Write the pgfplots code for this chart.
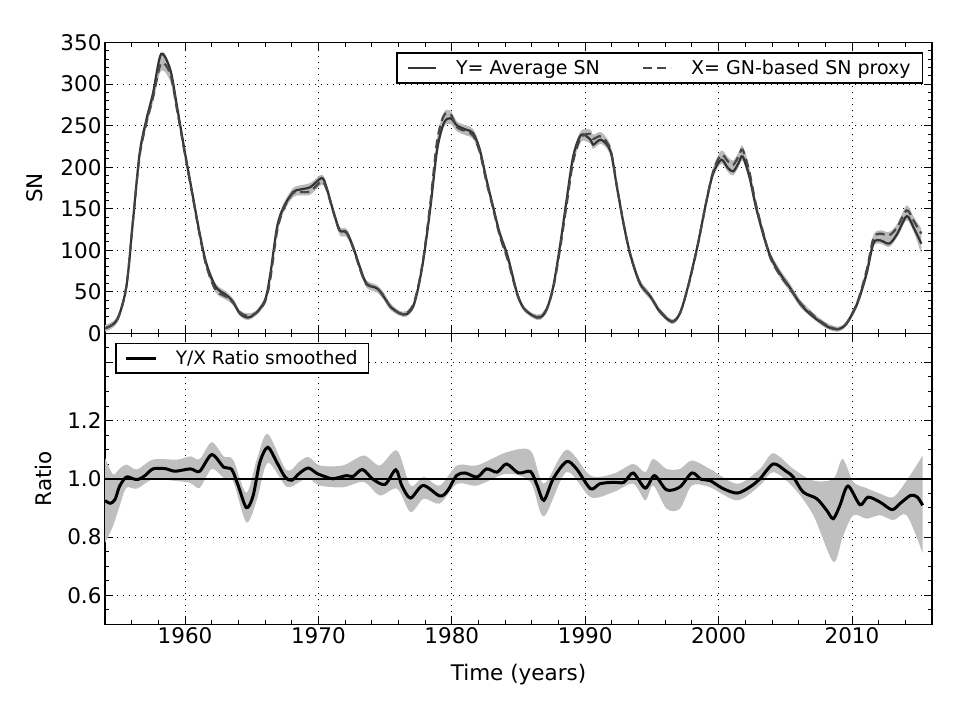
\documentclass[border=0pt]{standalone}
\usepackage{fontspec}
\setmainfont{DejaVu Sans}
\usepackage{pgfplots}
\usepackage{pgfplotstable}
\pgfplotsset{compat=1.18}
\usepgfplotslibrary{fillbetween}

\pgfplotstableread{
t Y X lo hi
1954.0 6 6 2 10
1954.9 16 16 12 20
1955.6 56 56 51 61
1956.1 136 136 130 142
1956.6 217 214 209 222
1957.1 257 253 248 262
1957.6 289 284 278 294
1958.2 336 325 316 339
1958.9 317 312 303 321
1959.4 273 269 263 278
1960.0 217 215 210 222
1960.6 164 162 157 169
1961.1 120 118 114 125
1961.6 84 81 77 88
1962.3 56 52 49 60
1963.1 46 44 40 50
1963.6 38 37 34 42
1964.1 24 25 21 28
1964.7 19 21 16 24
1965.3 24 24 21 27
1966.0 40 38 35 44
1966.4 72 66 63 76
1966.9 128 123 119 133
1967.4 152 150 146 157
1968.1 170 169 164 175
1968.6 173 170 166 178
1969.4 176 171 167 181
1970.25 187 183 179 191
1970.6 176 174 170 180
1971.1 148 147 143 152
1971.6 124 123 118 128
1972.1 122 121 116 126
1972.6 104 103 99 108
1973.1 80 78 75 84
1973.6 60 59 55 64
1974.4 54 54 49 58
1974.9 44 45 40 49
1975.4 32 32 28 36
1976.1 24 24 21 27
1976.6 23 24 20 27
1977.1 32 34 29 37
1977.5 56 58 52 62
1977.9 92 94 87 99
1978.4 152 158 147 162
1978.9 221 232 216 236
1979.4 253 262 248 266
1979.9 259 264 252 268
1980.4 250 248 243 255
1981.1 245 243 238 250
1981.6 241 238 234 246
1982.1 221 218 214 226
1982.6 185 182 179 190
1983.1 152 150 146 157
1983.6 120 117 114 125
1984.2 92 88 85 97
1984.9 48 47 43 52
1985.4 30 30 27 33
1986.1 21 21 18 24
1986.6 19 20 16 23
1987.1 28 29 25 32
1987.6 56 54 51 60
1988.1 104 100 97 109
1988.6 160 154 151 165
1989.1 213 207 203 218
1989.7 239 236 231 244
1990.4 233 240 228 245
1990.6 227 234 222 239
1991.2 233 237 228 242
1991.9 219 221 214 226
1992.4 174 175 169 180
1992.9 130 130 125 135
1993.4 94 93 89 99
1994.1 60 61 56 65
1994.9 44 44 40 48
1995.6 26 27 23 30
1996.5 14 14 11 17
1997.1 24 24 21 27
1997.7 56 55 52 60
1998.4 104 103 99 109
1999.1 160 160 155 165
1999.6 193 195 188 200
2000.2 209 215 204 220
2000.7 199 207 194 212
2001.1 195 203 190 208
2001.5 205 213 200 218
2001.8 213 221 208 226
2002.3 189 195 184 200
2002.8 152 155 147 160
2003.4 116 118 111 123
2003.9 92 90 87 97
2004.6 72 70 67 77
2005.3 56 55 51 61
2006.1 36 37 32 41
2006.8 24 26 21 29
2007.6 14 15 11 18
2008.3 7 8 4 11
2009.0 5 5 2 8
2009.6 12 12 9 15
2010.4 36 37 32 41
2011.1 72 76 68 80
2011.6 108 114 104 118
2012.1 112 120 108 124
2012.8 108 118 104 122
2013.4 120 128 116 132
2014.1 141 148 136 154
2014.6 128 136 123 141
2015.2 108 120 96 126
}\sntable

\pgfplotstableread{
t r
1954.0 0.925
1954.4 0.916
1954.75 0.929
1955.1 0.975
1955.6 1.006
1956.1 1.0
1956.5 0.998
1957.0 1.011
1957.6 1.034
1958.5 1.035
1959.25 1.026
1960.4 1.034
1961.1 1.026
1962.0 1.083
1962.9 1.04
1963.5 1.032
1964.0 0.975
1964.6 0.901
1965.1 0.941
1965.6 1.055
1966.2 1.108
1966.9 1.055
1967.5 1.006
1968.0 0.995
1968.6 1.02
1969.25 1.037
1969.9 1.018
1970.6 1.006
1971.1 1.0
1972.1 1.011
1972.6 1.008
1973.3 1.032
1974.1 0.998
1975.0 0.981
1975.8 1.031
1976.25 0.977
1976.9 0.934
1977.85 0.977
1979.1 0.941
1979.7 0.96
1980.35 1.011
1981.0 1.02
1981.9 1.006
1982.6 1.034
1983.4 1.023
1984.1 1.051
1985.0 1.02
1985.9 1.025
1986.4 0.977
1986.9 0.926
1987.6 1.0
1988.6 1.059
1989.35 1.034
1990.4 0.966
1991.1 0.983
1992.1 0.988
1992.9 0.988
1993.6 1.02
1994.5 0.968
1995.2 1.011
1996.1 0.962
1997.1 0.972
1998.0 1.02
1998.7 0.998
1999.35 0.994
2000.35 0.966
2001.4 0.951
2002.35 0.972
2003.1 1.0
2004.1 1.051
2005.0 1.028
2005.6 1.006
2006.35 0.954
2007.35 0.932
2008.1 0.892
2008.6 0.863
2009.1 0.909
2009.7 0.975
2010.6 0.911
2011.2 0.937
2012.1 0.92
2013.0 0.894
2013.6 0.915
2014.4 0.943
2014.9 0.937
2015.3 0.909
}\ratiotable

\pgfplotstableread{
t lo hi
1954.0 0.78 1.072
1954.6 0.838 1.015
1955.1 0.907 1.035
1955.6 0.969 1.049
1956.4 0.966 1.032
1957.6 0.998 1.066
1959.4 0.992 1.066
1960.4 0.986 1.077
1961.1 0.969 1.068
1962.0 1.034 1.126
1962.9 1.003 1.077
1963.6 0.992 1.066
1964.6 0.85 0.952
1965.4 0.93 1.07
1966.2 1.055 1.154
1967.6 0.973 1.03
1968.6 0.99 1.06
1969.25 1.003 1.075
1970.1 0.977 1.046
1971.85 0.971 1.046
1973.4 0.989 1.08
1974.6 0.943 1.046
1975.9 0.966 1.097
1976.9 0.886 0.977
1977.9 0.932 1.006
1979.1 0.915 0.977
1980.4 0.983 1.046
1981.9 0.977 1.046
1984.1 1.017 1.091
1985.9 0.989 1.097
1986.9 0.871 0.983
1988.6 1.023 1.1
1990.4 0.937 1.011
1992.1 0.954 1.017
1993.6 0.983 1.051
1994.5 0.926 1.023
1995.1 0.977 1.068
1996.1 0.897 1.034
1997.1 0.897 1.034
1998.0 0.977 1.063
1999.35 0.971 1.034
2001.4 0.926 0.983
2003.1 0.977 1.034
2004.1 1.023 1.088
2005.6 0.971 1.034
2007.1 0.875 0.994
2008.6 0.715 1.0
2009.3 0.8 1.068
2010.1 0.875 0.989
2011.1 0.863 0.968
2012.1 0.875 0.949
2013.1 0.858 0.937
2014.1 0.875 0.994
2015.3 0.744 1.08
}\bandtable

\pgfplotsset{
  mystyle/.style={
    scale only axis, width=827pt,
    xmin=1954, xmax=2016,
    xtick={1960,1970,...,2010},
    minor xtick={1954,1956,...,2016},
    tick align=inside,
    major tick length=8pt, minor tick length=4pt,
    every tick/.style={black, line width=0.9pt},
    axis line style={line width=1.5pt},
    grid=major,
    major grid style={black, line width=0.9pt, dash pattern=on 1pt off 5pt},
    tick label style={font=\fontsize{21.5}{25}\selectfont},
    label style={font=\fontsize{21.5}{25}\selectfont},
    /pgf/number format/assume math mode=true,
    /pgf/number format/1000 sep={},
    legend style={font=\fontsize{19}{22}\selectfont, draw=black, line width=1.5pt,
      inner xsep=10pt, inner ysep=5pt, nodes={inner sep=2pt},
      /tikz/every odd column/.append style={column sep=17pt},
      /tikz/every even column/.append style={column sep=40pt}},
    legend cell align=left,
  }
}

\begin{document}
\begin{tikzpicture}
\begin{axis}[mystyle, at={(0,0)}, anchor=south west, height=290.7pt,
  ymin=0, ymax=350, ytick={0,50,...,350}, minor ytick={0,10,...,350},
  xticklabels={},
  ylabel={SN}, y label style={at={(axis description cs:-0.0846,0.5)}, anchor=center},
  legend columns=2,
  legend image code/.code={\draw[#1] (0pt,0pt) -- (28pt,0pt);},
  legend style={at={(axis description cs:0.9895,0.967)}, anchor=north east}]
\addplot[name path=hiT, draw=none, smooth, forget plot] table[x=t,y=hi]{\sntable};
\addplot[name path=loT, draw=none, smooth, forget plot] table[x=t,y=lo]{\sntable};
\addplot[fill=black!27, draw=none, forget plot] fill between[of=hiT and loT];
\addplot[black!80, line width=2.2pt, smooth] table[x=t,y=Y]{\sntable};
\addlegendentry{Y= Average SN}
\addplot[black!72, line width=2.2pt, smooth, dash pattern=on 9pt off 5pt] table[x=t,y=X]{\sntable};
\addlegendentry{X= GN-based SN proxy}
\end{axis}
\begin{axis}[mystyle, at={(0,0)}, anchor=north west, height=291pt,
  ymin=0.5, ymax=1.5, ytick={0.6,0.8,1.0,1.2,1.4}, yticklabels={0.6,0.8,1.0,1.2,{}},
  minor ytick={0.5,0.55,...,1.51},
  xlabel={Time (years)}, x label style={at={(axis description cs:0.5,0)}, anchor=center, yshift=-50pt},
  ylabel={Ratio}, y label style={at={(axis description cs:-0.0744,0.5)}, anchor=center},
  legend image code/.code={\draw[#1] (0pt,0pt) -- (30pt,0pt);},
  legend style={at={(axis description cs:0.0121,0.968)}, anchor=north west,
    font=\fontsize{18.5}{22}\selectfont, inner xsep=9pt,
    /tikz/every odd column/.append style={column sep=16pt}}]
\addplot[name path=hiB, draw=none, smooth, forget plot] table[x=t,y=hi]{\bandtable};
\addplot[name path=loB, draw=none, smooth, forget plot] table[x=t,y=lo]{\bandtable};
\addplot[fill=black!25, draw=none, forget plot] fill between[of=hiB and loB];
\addplot[black, line width=1.8pt, forget plot] coordinates {(1954,1) (2016,1)};
\addplot[black, line width=3pt, smooth] table[x=t,y=r]{\ratiotable};
\addlegendentry{Y/X Ratio smoothed}
\end{axis}
\pgfresetboundingbox
\useasboundingbox (-105pt,-377.7pt) rectangle (852pt,333.3pt);
\end{tikzpicture}
\end{document}
